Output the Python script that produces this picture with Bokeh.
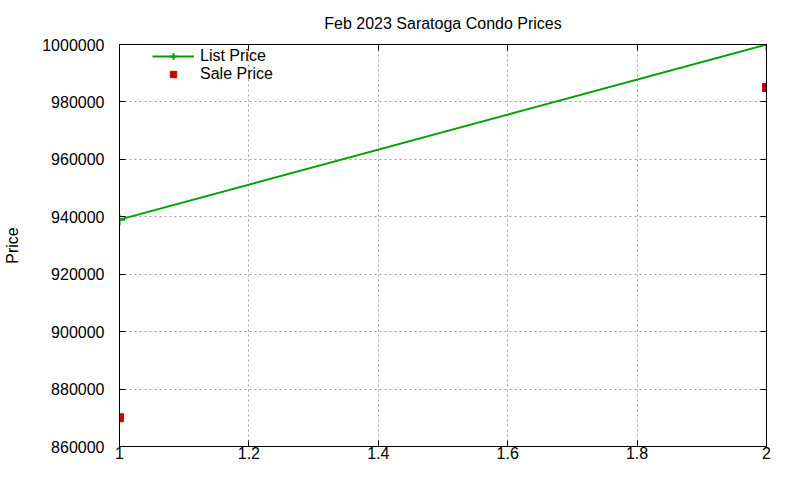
from bokeh.plotting import figure
from bokeh.models import (LinearAxis, FixedTicker, Legend, LegendItem,
                          CustomJSTickFormatter, Range1d)
from bokeh.embed import file_html
from bokeh.resources import INLINE

# ---- data ----
months = [1, 2]
list_price = [939000, 1000000]
sale_price = [870000, 985000]

x_ticks = [1, 1.2, 1.4, 1.6, 1.8, 2]
x_tick_labels = ["1", "1.2", "1.4", "1.6", "1.8", "2"]
y_ticks = [860000, 880000, 900000, 920000, 940000, 960000, 980000, 1000000]
y_tick_labels = ["860000", "880000", "900000", "920000", "940000", "960000", "980000", "1000000"]

title_text = "Feb 2023 Saratoga Condo Prices"
y_label = "Price"

FONT = "Liberation Sans"
GREEN = "#00a000"
RED = "#cc0000"

p = figure(width=784, height=464, output_backend="svg", toolbar_location=None,
           x_range=Range1d(1, 2), y_range=Range1d(860000, 1000000),
           min_border_left=119, min_border_right=18, min_border_top=44, min_border_bottom=18)

p.title.text = title_text
p.title.align = "center"
p.title.text_font = FONT
p.title.text_font_size = "16px"
p.title.text_font_style = "normal"
p.title.text_color = "black"
p.title.text_line_height = 0.6
p.title.standoff = 25

p.outline_line_color = "black"
p.outline_line_width = 1
p.background_fill_color = "white"
p.border_fill_color = "white"

def style_axis(ax):
    ax.axis_line_color = "black"
    ax.major_tick_in = 6
    ax.major_tick_out = 0
    ax.minor_tick_in = 0
    ax.minor_tick_out = 0
    ax.major_tick_line_color = "black"
    ax.major_label_text_font = FONT
    ax.major_label_text_font_size = "16px"
    ax.major_label_text_color = "black"

# bottom axis
xa = p.xaxis[0]
xa.ticker = FixedTicker(ticks=x_ticks)
xa.major_label_overrides = {t: l for t, l in zip(x_ticks, x_tick_labels)}
style_axis(xa)
xa.major_label_standoff = 0

# left axis
ya = p.yaxis[0]
ya.ticker = FixedTicker(ticks=y_ticks)
ya.major_label_overrides = {t: l for t, l in zip(y_ticks, y_tick_labels)}
style_axis(ya)
ya.major_label_standoff = 15
ya.axis_label = y_label
ya.axis_label_text_font = FONT
ya.axis_label_text_font_size = "16px"
ya.axis_label_text_font_style = "normal"
ya.axis_label_text_color = "black"
ya.axis_label_standoff = 18

# mirrored ticks (no labels)
blank = CustomJSTickFormatter(code="return ''")
ra = LinearAxis(ticker=FixedTicker(ticks=y_ticks), formatter=blank)
style_axis(ra)
ra.major_label_standoff = 0
p.add_layout(ra, "right")
ta = LinearAxis(ticker=FixedTicker(ticks=x_ticks), formatter=blank)
style_axis(ta)
ta.major_label_standoff = 0
p.add_layout(ta, "above")

# grid
p.xgrid.ticker = FixedTicker(ticks=x_ticks)
p.ygrid.ticker = FixedTicker(ticks=y_ticks)
for g in (p.xgrid[0], p.ygrid[0]):
    g.grid_line_color = "#a0a0a0"
    g.grid_line_dash = "2 3"
    g.grid_line_width = 1

# series
lr = p.line(months, list_price, line_color=GREEN, line_width=2)
lm = p.scatter(months, list_price, marker="cross", size=11, line_color=GREEN, line_width=2)
sm = p.scatter(months, sale_price, marker="square", size=8, fill_color=RED, line_color=RED)

legend = Legend(items=[LegendItem(label="List Price", renderers=[lr, lm]),
                       LegendItem(label="Sale Price", renderers=[sm])],
                location=(33, 363))
legend.background_fill_alpha = 0
legend.border_line_color = None
legend.padding = 0
legend.margin = 0
legend.spacing = 0
legend.glyph_width = 42
legend.glyph_height = 16
legend.label_height = 16
legend.label_standoff = 6
legend.label_text_font = FONT
legend.label_text_font_size = "16px"
legend.label_text_color = "black"
p.add_layout(legend)

open("out.html", "w").write(file_html(p, INLINE))
